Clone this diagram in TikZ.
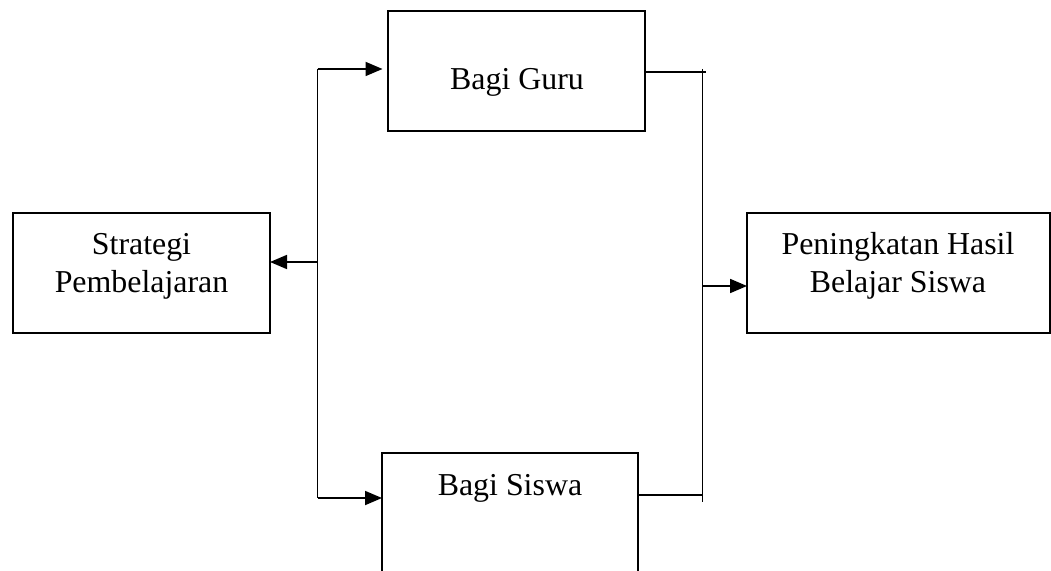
\documentclass[tikz,border=0pt]{standalone}
\usepackage{fontspec}
\setmainfont{Liberation Serif}
\usetikzlibrary{arrows.meta}
\begin{document}
\begin{tikzpicture}[x=1bp,y=-1bp,
  line width=1.8bp,
  box/.style={draw, inner sep=0pt, outer sep=0pt},
  lbl/.style={inner sep=0pt, anchor=base, font=\fontsize{32}{38}\selectfont},
  arr/.style={-{Triangle[length=17bp,width=14bp]}}]
\useasboundingbox (0,0) rectangle (1051,571);
% boxes
\node[box, minimum width=257bp, minimum height=120bp] (guru) at (516.5,71) {};
\node[box, minimum width=257bp, minimum height=120bp] (strat) at (141.5,273) {};
\node[box, minimum width=303bp, minimum height=120bp] (peng) at (898.5,273) {};
\node[inner sep=0pt, outer sep=0pt, minimum width=256bp, minimum height=130bp] (siswa) at (510,518) {};
\draw (siswa.south west) -- (siswa.north west) -- (siswa.north east) -- (siswa.south east);
% texts
\node[lbl] (tguru) at (517,90) {Bagi Guru};
\node[lbl] (tsiswa) at (510,495) {Bagi Siswa};
\node[lbl] (tstrat1) at (141.5,255) {Strategi};
\node[lbl] (tstrat2) at (141.5,293) {Pembelajaran};
\node[lbl] (tpeng1) at (898,255) {Peningkatan Hasil};
\node[lbl] (tpeng2) at (898,293) {Belajar Siswa};
% left trunk
\coordinate (tl) at (317.5,69);
\coordinate (ml) at (317.5,262);
\coordinate (bl) at (317.5,498);
\draw (tl) -- (bl);
\draw[arr, shorten >=5.5bp] (tl) -- (tl -| guru.west);
\draw[arr] (ml) -- (ml -| strat.east);
\draw[arr] (bl) -- (bl -| siswa.west);
% right trunk
\coordinate (tr) at (702.5,72);
\coordinate (trtop) at (702.5,69);
\coordinate (trx) at (705.5,72);
\coordinate (mr) at (702.5,286);
\coordinate (sr) at (702.5,495);
\coordinate (br) at (702.5,502);
\draw (guru.east |- tr) -- (trx);
\draw (trtop) -- (br);
\draw (siswa.east |- sr) -- (sr);
\draw[arr] (mr) -- (mr -| peng.west);
\end{tikzpicture}
\end{document}
